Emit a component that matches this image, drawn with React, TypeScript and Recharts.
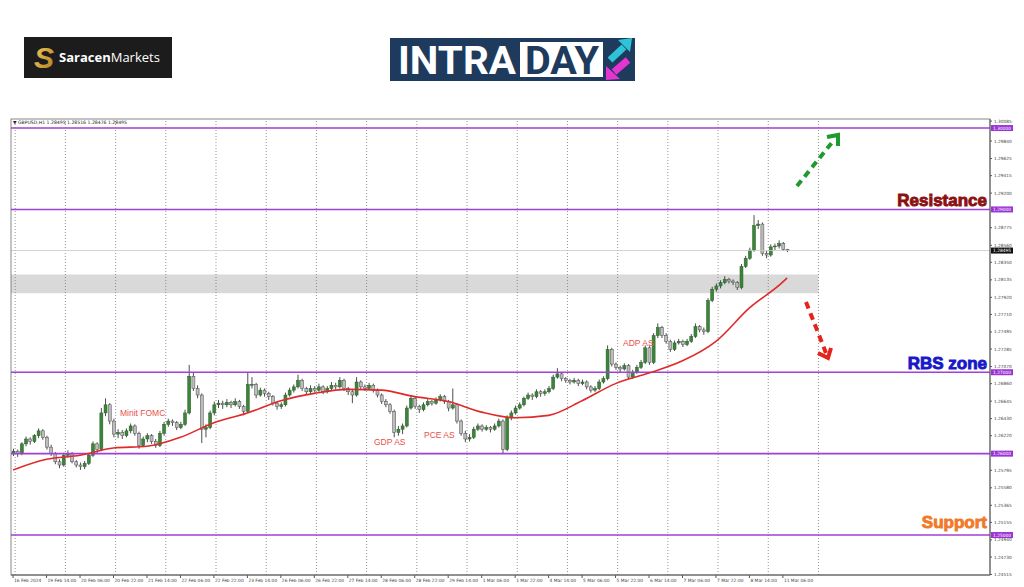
import React from 'react';
import { ComposedChart, Bar, Line, XAxis, YAxis, ReferenceLine, ReferenceArea } from 'recharts';

const candles: [number, number, number, number][] = [
  [1.2600, 1.2606, 1.2597, 1.2603], [1.2603, 1.2605, 1.2596, 1.2600], [1.2600, 1.2614, 1.2598, 1.2612], [1.2612, 1.2621, 1.2609, 1.2618],
  [1.2618, 1.2620, 1.2611, 1.2615], [1.2615, 1.2624, 1.2613, 1.2622], [1.2622, 1.2631, 1.2619, 1.2628], [1.2628, 1.2630, 1.2617, 1.2620],
  [1.2620, 1.2622, 1.2605, 1.2608], [1.2608, 1.2611, 1.2597, 1.2600], [1.2600, 1.2602, 1.2587, 1.2590], [1.2590, 1.2593, 1.2582, 1.2586],
  [1.2586, 1.2601, 1.2584, 1.2598], [1.2598, 1.2604, 1.2595, 1.2600], [1.2600, 1.2602, 1.2588, 1.2590], [1.2590, 1.2592, 1.2583, 1.2586],
  [1.2586, 1.2589, 1.2580, 1.2584], [1.2584, 1.2591, 1.2581, 1.2588], [1.2588, 1.2600, 1.2586, 1.2598], [1.2598, 1.2615, 1.2596, 1.2612],
  [1.2612, 1.2614, 1.2601, 1.2605], [1.2605, 1.2656, 1.2603, 1.2650], [1.2650, 1.2668, 1.2646, 1.2660], [1.2660, 1.2662, 1.2636, 1.2640],
  [1.2640, 1.2643, 1.2620, 1.2624], [1.2624, 1.2630, 1.2619, 1.2626], [1.2626, 1.2629, 1.2618, 1.2622], [1.2622, 1.2631, 1.2620, 1.2628],
  [1.2628, 1.2637, 1.2625, 1.2634], [1.2634, 1.2636, 1.2622, 1.2625], [1.2625, 1.2627, 1.2606, 1.2610], [1.2610, 1.2621, 1.2608, 1.2618],
  [1.2618, 1.2625, 1.2614, 1.2622], [1.2622, 1.2624, 1.2612, 1.2615], [1.2615, 1.2618, 1.2607, 1.2610], [1.2610, 1.2628, 1.2608, 1.2625],
  [1.2625, 1.2639, 1.2622, 1.2636], [1.2636, 1.2643, 1.2633, 1.2640], [1.2640, 1.2642, 1.2634, 1.2638], [1.2638, 1.2640, 1.2629, 1.2632],
  [1.2632, 1.2639, 1.2630, 1.2636], [1.2636, 1.2654, 1.2634, 1.2650], [1.2650, 1.2709, 1.2648, 1.2695], [1.2695, 1.2700, 1.2677, 1.2680],
  [1.2680, 1.2684, 1.2668, 1.2672], [1.2672, 1.2674, 1.2613, 1.2630], [1.2630, 1.2636, 1.2620, 1.2632], [1.2632, 1.2653, 1.2630, 1.2650],
  [1.2650, 1.2664, 1.2647, 1.2660], [1.2660, 1.2666, 1.2656, 1.2662], [1.2662, 1.2665, 1.2655, 1.2660], [1.2660, 1.2667, 1.2657, 1.2663],
  [1.2663, 1.2665, 1.2656, 1.2660], [1.2660, 1.2668, 1.2658, 1.2664], [1.2664, 1.2666, 1.2655, 1.2658], [1.2658, 1.2660, 1.2647, 1.2652],
  [1.2652, 1.2700, 1.2650, 1.2685], [1.2685, 1.2694, 1.2680, 1.2685], [1.2685, 1.2687, 1.2668, 1.2672], [1.2672, 1.2681, 1.2670, 1.2678],
  [1.2678, 1.2680, 1.2670, 1.2674], [1.2674, 1.2676, 1.2666, 1.2670], [1.2670, 1.2672, 1.2659, 1.2662], [1.2662, 1.2664, 1.2654, 1.2658],
  [1.2658, 1.2663, 1.2655, 1.2660], [1.2660, 1.2675, 1.2658, 1.2672], [1.2672, 1.2681, 1.2670, 1.2678], [1.2678, 1.2685, 1.2675, 1.2682],
  [1.2682, 1.2697, 1.2680, 1.2690], [1.2690, 1.2692, 1.2677, 1.2680], [1.2680, 1.2682, 1.2672, 1.2676], [1.2676, 1.2684, 1.2674, 1.2680],
  [1.2680, 1.2683, 1.2675, 1.2678], [1.2678, 1.2686, 1.2676, 1.2682], [1.2682, 1.2684, 1.2673, 1.2676], [1.2676, 1.2683, 1.2674, 1.2680],
  [1.2680, 1.2688, 1.2678, 1.2684], [1.2684, 1.2687, 1.2679, 1.2682], [1.2682, 1.2694, 1.2680, 1.2690], [1.2690, 1.2692, 1.2677, 1.2680],
  [1.2680, 1.2682, 1.2672, 1.2676], [1.2676, 1.2679, 1.2662, 1.2672], [1.2672, 1.2694, 1.2670, 1.2688], [1.2688, 1.2690, 1.2679, 1.2682],
  [1.2682, 1.2685, 1.2677, 1.2680], [1.2680, 1.2687, 1.2678, 1.2684], [1.2684, 1.2686, 1.2675, 1.2678], [1.2678, 1.2680, 1.2669, 1.2672],
  [1.2672, 1.2674, 1.2661, 1.2664], [1.2664, 1.2667, 1.2657, 1.2660], [1.2660, 1.2662, 1.2649, 1.2652], [1.2652, 1.2654, 1.2620, 1.2626],
  [1.2626, 1.2634, 1.2622, 1.2630], [1.2630, 1.2637, 1.2624, 1.2634], [1.2634, 1.2659, 1.2632, 1.2656], [1.2656, 1.2672, 1.2654, 1.2668],
  [1.2668, 1.2670, 1.2655, 1.2658], [1.2658, 1.2660, 1.2650, 1.2654], [1.2654, 1.2663, 1.2652, 1.2660], [1.2660, 1.2667, 1.2658, 1.2664],
  [1.2664, 1.2666, 1.2659, 1.2662], [1.2662, 1.2669, 1.2660, 1.2666], [1.2666, 1.2673, 1.2664, 1.2670], [1.2670, 1.2672, 1.2661, 1.2664],
  [1.2664, 1.2666, 1.2652, 1.2656], [1.2656, 1.2680, 1.2654, 1.2660], [1.2660, 1.2662, 1.2637, 1.2640], [1.2640, 1.2642, 1.2622, 1.2625],
  [1.2625, 1.2628, 1.2614, 1.2618], [1.2618, 1.2624, 1.2615, 1.2620], [1.2620, 1.2633, 1.2618, 1.2630], [1.2630, 1.2637, 1.2628, 1.2634],
  [1.2634, 1.2636, 1.2627, 1.2630], [1.2630, 1.2635, 1.2628, 1.2632], [1.2632, 1.2634, 1.2626, 1.2630], [1.2630, 1.2637, 1.2628, 1.2634],
  [1.2634, 1.2643, 1.2632, 1.2640], [1.2640, 1.2642, 1.2600, 1.2605], [1.2605, 1.2647, 1.2603, 1.2644], [1.2644, 1.2653, 1.2641, 1.2650],
  [1.2650, 1.2659, 1.2648, 1.2656], [1.2656, 1.2663, 1.2654, 1.2660], [1.2660, 1.2670, 1.2658, 1.2668], [1.2668, 1.2675, 1.2666, 1.2672],
  [1.2672, 1.2674, 1.2666, 1.2670], [1.2670, 1.2679, 1.2668, 1.2676], [1.2676, 1.2678, 1.2670, 1.2674], [1.2674, 1.2679, 1.2671, 1.2676],
  [1.2676, 1.2683, 1.2674, 1.2680], [1.2680, 1.2697, 1.2678, 1.2694], [1.2694, 1.2705, 1.2692, 1.2698], [1.2698, 1.2700, 1.2689, 1.2692],
  [1.2692, 1.2694, 1.2687, 1.2690], [1.2690, 1.2692, 1.2685, 1.2688], [1.2688, 1.2693, 1.2686, 1.2690], [1.2690, 1.2692, 1.2683, 1.2686],
  [1.2686, 1.2691, 1.2684, 1.2688], [1.2688, 1.2690, 1.2679, 1.2682], [1.2682, 1.2684, 1.2675, 1.2678], [1.2678, 1.2683, 1.2676, 1.2680],
  [1.2680, 1.2691, 1.2678, 1.2688], [1.2688, 1.2695, 1.2686, 1.2692], [1.2692, 1.2733, 1.2690, 1.2728], [1.2728, 1.2730, 1.2707, 1.2710],
  [1.2710, 1.2712, 1.2703, 1.2706], [1.2706, 1.2708, 1.2700, 1.2704], [1.2704, 1.2711, 1.2702, 1.2708], [1.2708, 1.2710, 1.2691, 1.2694],
  [1.2694, 1.2703, 1.2692, 1.2700], [1.2700, 1.2709, 1.2698, 1.2706], [1.2706, 1.2715, 1.2704, 1.2712], [1.2712, 1.2733, 1.2710, 1.2730],
  [1.2730, 1.2732, 1.2709, 1.2712], [1.2712, 1.2748, 1.2710, 1.2745], [1.2745, 1.2760, 1.2742, 1.2755], [1.2755, 1.2757, 1.2742, 1.2745],
  [1.2745, 1.2748, 1.2735, 1.2738], [1.2738, 1.2740, 1.2725, 1.2728], [1.2728, 1.2739, 1.2726, 1.2736], [1.2736, 1.2741, 1.2734, 1.2738],
  [1.2738, 1.2740, 1.2731, 1.2734], [1.2734, 1.2741, 1.2732, 1.2738], [1.2738, 1.2747, 1.2736, 1.2744], [1.2744, 1.2760, 1.2742, 1.2756],
  [1.2756, 1.2758, 1.2749, 1.2752], [1.2752, 1.2755, 1.2746, 1.2750], [1.2750, 1.2791, 1.2748, 1.2788], [1.2788, 1.2805, 1.2786, 1.2802],
  [1.2802, 1.2809, 1.2799, 1.2806], [1.2806, 1.2813, 1.2803, 1.2810], [1.2810, 1.2818, 1.2808, 1.2814], [1.2814, 1.2816, 1.2809, 1.2812],
  [1.2812, 1.2814, 1.2807, 1.2810], [1.2810, 1.2812, 1.2801, 1.2804], [1.2804, 1.2833, 1.2802, 1.2830], [1.2830, 1.2843, 1.2828, 1.2840],
  [1.2840, 1.2853, 1.2838, 1.2850], [1.2850, 1.2893, 1.2848, 1.2880], [1.2880, 1.2887, 1.2876, 1.2882], [1.2882, 1.2884, 1.2843, 1.2846],
  [1.2846, 1.2849, 1.2840, 1.2844], [1.2844, 1.2857, 1.2842, 1.2854], [1.2854, 1.2858, 1.2850, 1.2855], [1.2855, 1.2862, 1.2852, 1.2858],
  [1.2858, 1.2860, 1.2849, 1.2851], [1.2851, 1.28516, 1.28476, 1.28495],
];

// moving average (red line), read every 8 candles
const maIdx = [0, 8, 16, 24, 32, 40, 48, 56, 64, 72, 80, 88, 96, 104, 112, 120, 128, 136, 144, 152, 160, 168, 176, 184, 185];
const maVals = [1.2580, 1.2593, 1.2598, 1.2607, 1.2609, 1.2620, 1.2638, 1.2650, 1.2665, 1.2674, 1.2679, 1.2678, 1.2670,
  1.2664, 1.2651, 1.2644, 1.2647, 1.2665, 1.2686, 1.2699, 1.2714, 1.2738, 1.2779, 1.2811, 1.2816];

const timeLabels = ['16 Feb 2024', '19 Feb 14:00', '20 Feb 06:00', '20 Feb 22:00', '21 Feb 14:00', '22 Feb 06:00',
  '22 Feb 22:00', '23 Feb 14:00', '26 Feb 06:00', '26 Feb 22:00', '27 Feb 14:00', '28 Feb 06:00', '28 Feb 22:00',
  '29 Feb 14:00', '1 Mar 06:00', '1 Mar 22:00', '4 Mar 14:00', '5 Mar 06:00', '5 Mar 22:00', '6 Mar 14:00',
  '7 Mar 06:00', '7 Mar 22:00', '8 Mar 14:00', '11 Mar 06:00'];
const timeTicks = timeLabels.map((_, k) => k * 8);
const gridDays = [0.5, 12.5, 24.5, 36.5, 48.5, 60.5, 72.5, 84.5, 96.5, 108.5, 120.5, 132.5, 144.5, 156.5, 168.5, 180.5, 192.5];

const priceTicks = [1.30085, 1.2984, 1.29625, 1.29415, 1.292, 1.28775, 1.2856, 1.2835, 1.28135, 1.2792, 1.2771,
  1.27495, 1.27285, 1.2707, 1.2686, 1.26645, 1.2643, 1.2622, 1.25795, 1.2558, 1.25365, 1.25155, 1.2494, 1.2473, 1.24515];
const levels = [1.3, 1.29, 1.27, 1.26, 1.25];
const lastPrice = 1.28495;
const zoneLow = 1.2797;
const zoneHigh = 1.2820;
const SLOTS = 234;

const data = Array.from({ length: SLOTS }, (_, i) => {
  const k = candles[i];
  const m = maIdx.indexOf(i);
  const ma = m >= 0 ? maVals[m] : null;
  if (!k) return { i, ma };
  return { i, o: k[0], h: k[1], l: k[2], c: k[3], range: [k[2], k[1]], ma };
});

const Candle = (props: any) => {
  const { x, y, width, height, payload } = props;
  if (!payload || payload.o == null) return null;
  const { o, h, l, c } = payload;
  const top = Math.min(y, y + height);
  const span = Math.abs(height);
  const py = (v: number) => (h === l ? top : top + ((h - v) / (h - l)) * span);
  const cx = x + width / 2;
  const up = c >= o;
  const bt = py(Math.max(o, c));
  const bb = py(Math.min(o, c));
  return (
    <g>
      <line x1={cx} x2={cx} y1={top} y2={top + span} stroke="#3a3a3a" strokeWidth={0.9} />
      <rect x={x} y={bt} width={width} height={Math.max(0.8, bb - bt)}
        fill={up ? '#3a853a' : '#bdbdbd'} stroke={up ? '#2a5a2a' : '#4a4a4a'} strokeWidth={0.5} />
    </g>
  );
};

const PriceTag = (props: any) => {
  const { viewBox, value, bg } = props;
  if (!viewBox) return null;
  const x = viewBox.x + viewBox.width + 1;
  const y = viewBox.y;
  return (
    <g>
      <rect x={x} y={y - 3} width={22} height={6} fill={bg} />
      <text x={x + 2} y={y + 1.6} fontSize={4.4} fill="#fff" fontFamily="DejaVu Sans">{value.toFixed(5)}</text>
    </g>
  );
};

const PriceTick = ({ x, y, payload }: any) => (
  <text x={x} y={y + 1.5} fontSize={4.3} fill="#444" fontFamily="DejaVu Sans">{Number(payload.value).toFixed(5)}</text>
);

const TimeTick = ({ x, y, payload }: any) => {
  const k = timeTicks.indexOf(payload.value);
  if (k < 0) return null;
  return (
    <text x={x + 1} y={y + 3} fontSize={4.4} fill="#444" fontFamily="DejaVu Sans">{timeLabels[k]}</text>
  );
};

const Logos = () => (
  <svg width={1024} height={587} style={{ position: 'absolute', left: 0, top: 0, pointerEvents: 'none' }}>
    <defs>
      <linearGradient id="gold" x1="0" y1="0" x2="1" y2="1">
        <stop offset="0%" stopColor="#f6cf63" />
        <stop offset="100%" stopColor="#b07a1c" />
      </linearGradient>
    </defs>
    {/* SaracenMarkets */}
    <rect x={24} y={37} width={148} height={41} fill="#1c1c1c" />
    <text x={34} y={68} fontSize={30} fontWeight={900} fontStyle="italic" fill="url(#gold)" fontFamily="Liberation Sans">S</text>
    <text x={59} y={62} fontSize={13} fill="#fff" fontFamily="Open Sans">
      <tspan fontWeight={700}>Saracen</tspan><tspan fontWeight={400}>Markets</tspan>
    </text>
    {/* INTRADAY */}
    <rect x={390} y={38} width={245} height={43} fill="#1e3a5c" />
    <text x={398} y={74} fontSize={38} fontWeight={700} fill="#fff" fontFamily="Roboto"
      textLength={118} lengthAdjust="spacingAndGlyphs">INTRA</text>
    <rect x={520} y={42} width={83} height={35} fill="#fff" />
    <text x={525} y={74} fontSize={38} fontWeight={700} fill="#1e3a5c" fontFamily="Roboto"
      textLength={74} lengthAdjust="spacingAndGlyphs">DAY</text>
    <line x1={610} y1={60} x2={624} y2={47} stroke="#2ec4d8" strokeWidth={7} />
    <polygon points="618,40 632,38 630,52" fill="#2ec4d8" />
    <line x1={628} y1={60} x2={614} y2={72} stroke="#e535d0" strokeWidth={7} />
    <polygon points="606,66 606,80 620,79" fill="#e535d0" />

    {/* chart frame + header */}
    <rect x={11} y={119} width={979} height={456} fill="none" stroke="#6a6a6a" strokeWidth={0.8} />
    <text x={13} y={124} fontSize={4.6} fill="#222" fontFamily="DejaVu Sans">▼ GBPUSD,H1  1.28495 1.28516 1.28476 1.28495</text>

    {/* event notes */}
    <g fontFamily="Liberation Sans" fontSize={8.5} fill="#e8504a">
      <text x={120} y={416}>Minit FOMC</text>
      <text x={374} y={445}>GDP AS</text>
      <text x={424} y={438}>PCE AS</text>
      <text x={623} y={346}>ADP AS</text>
    </g>

    {/* zone names */}
    <g fontFamily="Liberation Sans" fontSize={17} fontWeight={700} textAnchor="end" strokeWidth={0.9}>
      <text x={987} y={206} fill="#8b1111" stroke="#8b1111">Resistance</text>
      <text x={987} y={369} fill="#1818c8" stroke="#1818c8">RBS zone</text>
      <text x={987} y={528} fill="#f07a2c" stroke="#f07a2c">Support</text>
    </g>

    {/* scenario arrows */}
    <line x1={797} y1={186} x2={834} y2={140} stroke="#1f9a2e" strokeWidth={4} strokeDasharray="7 5" />
    <polyline points="827,137 838,135 838,146" fill="none" stroke="#1f9a2e" strokeWidth={4} />
    <line x1={806} y1={302} x2={826} y2={353} stroke="#e5231b" strokeWidth={4} strokeDasharray="7 5" />
    <polyline points="831,348 828,358 818,353" fill="none" stroke="#e5231b" strokeWidth={4} />
  </svg>
);

export default function App() {
  return (
    <div style={{ position: 'absolute', left: 0, top: 0, width: 1024, height: 587, background: '#fff' }}>
      <ComposedChart width={1024} height={587} data={data} margin={{ top: 119, right: 0, bottom: 0, left: 11 }}>
        <XAxis dataKey="i" type="number" domain={[-0.5, SLOTS - 0.5]} ticks={timeTicks} interval={0}
          tick={<TimeTick />} tickSize={3} tickMargin={1} height={12} stroke="#555" allowDataOverflow />
        <YAxis orientation="right" type="number" domain={[1.24509, 1.30111]} ticks={priceTicks} interval={0}
          tick={<PriceTick />} tickSize={2} tickMargin={2} width={34} stroke="#555" allowDataOverflow />
        <ReferenceArea x1={-0.5} x2={192.5} y1={zoneLow} y2={zoneHigh} fill="#d9d9d9" fillOpacity={1} stroke="none" />
        {gridDays.map((g) => (
          <ReferenceLine key={g} x={g} stroke="#777" strokeWidth={0.8} strokeDasharray="1 2" />
        ))}
        <ReferenceLine y={lastPrice} stroke="#c8c8c8" strokeWidth={0.8} label={<PriceTag value={lastPrice} bg="#111" />} />
        {levels.map((v) => (
          <ReferenceLine key={v} y={v} stroke="#a13fd6" strokeWidth={1.6} label={<PriceTag value={v} bg="#9b34d6" />} />
        ))}
        <Bar dataKey="range" barSize={3} shape={(p: any) => <Candle {...p} />} isAnimationActive={false} />
        <Line dataKey="ma" type="monotone" stroke="#e02a2a" strokeWidth={1.6} dot={false} connectNulls isAnimationActive={false} />
      </ComposedChart>
      <Logos />
    </div>
  );
}
